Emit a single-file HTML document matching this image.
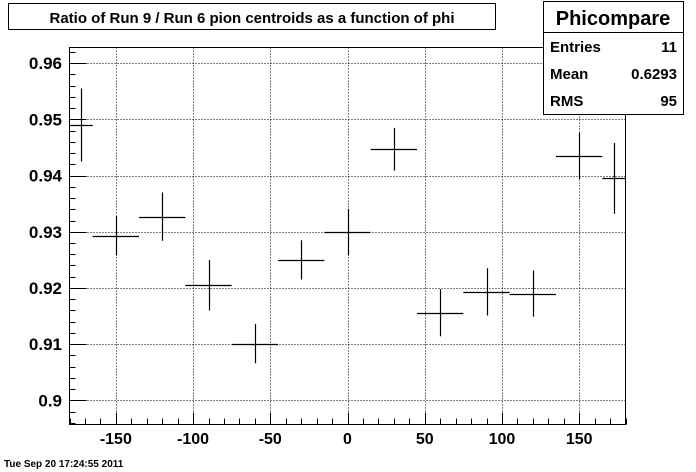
<!DOCTYPE html>
<html><head><meta charset="utf-8"><style>
body{margin:0;background:#fff;}
svg{display:block;font-family:"Liberation Sans",Arial,sans-serif;}
</style></head><body>
<svg id="c" width="696" height="472" viewBox="0 0 696 472">
<rect width="696" height="472" fill="#fff"/>
<g>
<rect x="8.5" y="3.5" width="487" height="26" fill="#fff" stroke="#000"/>
<text x="252" y="23" text-anchor="middle" font-size="15" font-weight="bold">Ratio of Run 9 / Run 6 pion centroids as a function of phi</text>
</g>
<g id="grid"></g>
<g id="axes"></g>
<g id="marks"></g>
<g>
<rect x="543.5" y="1.5" width="140" height="113" fill="#fff" stroke="#000"/>
<line x1="543" y1="32.5" x2="684" y2="32.5" stroke="#000"/>
<text x="613" y="25" text-anchor="middle" font-size="20" font-weight="bold">Phicompare</text>
<text x="550" y="52" font-size="15" font-weight="bold">Entries</text><text x="677" y="52" text-anchor="end" font-size="15" font-weight="bold">11</text>
<text x="550" y="79" font-size="15" font-weight="bold">Mean</text><text x="677" y="79" text-anchor="end" font-size="15" font-weight="bold">0.6293</text>
<text x="550" y="106" font-size="15" font-weight="bold">RMS</text><text x="677" y="106" text-anchor="end" font-size="15" font-weight="bold">95</text>
</g>
<text x="4" y="467" font-size="10" font-weight="bold">Tue Sep 20 17:24:55 2011</text>
</svg>
<script>
const xs=[-172.5,-150,-120,-90,-60,-30,0,30,60,90,120,150,172.5];
const ys=[0.949,0.9293,0.9327,0.9205,0.9101,0.925,0.930,0.9447,0.9156,0.9193,0.9190,0.9435,0.9395];
const yerr=[0.0065,0.0035,0.0043,0.0045,0.0035,0.0035,0.0041,0.0038,0.0042,0.0042,0.0041,0.0041,0.0063];
const xerr=[7.5,15,15,15,15,15,15,15,15,15,15,15,7.5];
const xTicks=[-150,-100,-50,0,50,100,150];
const yTicks=[0.9,0.91,0.92,0.93,0.94,0.95,0.96];
const X0=69.5,X1=625.5,Y0=424.5,Y1=47.5,xmin=-180,xmax=180,ymin=0.8957,ymax=0.9628;
const sx=v=>X0+(v-xmin)/(xmax-xmin)*(X1-X0);
const sy=v=>Y0-(v-ymin)/(ymax-ymin)*(Y0-Y1);
const NS="http://www.w3.org/2000/svg";
function mk(p,t,a){const e=document.createElementNS(NS,t);for(const k in a)e.setAttribute(k,a[k]);p.appendChild(e);return e;}
const g=document.getElementById('grid'),ax=document.getElementById('axes'),m=document.getElementById('marks');
xTicks.forEach(t=>{const l=mk(g,'line',{x1:Math.round(sx(t))+.5,x2:Math.round(sx(t))+.5,y1:Y1,y2:Y0,stroke:'#000','stroke-dasharray':'1,2'});
});
yTicks.forEach(t=>{const l=mk(g,'line',{x1:X0,x2:X1,y1:Math.round(sy(t))+.5,y2:Math.round(sy(t))+.5,stroke:'#000','stroke-dasharray':'1,2'});
});
const fr=mk(ax,'rect',{x:X0,y:Y1,width:X1-X0,height:Y0-Y1,fill:'none',stroke:'#000'});

for(let v=-180;v<=180;v+=10){const major=v%50===0;const x=Math.round(sx(v))+.5;
const l=mk(ax,'line',{x1:x,x2:x,y1:Y0,y2:Y0-(major?12:6),stroke:'#000'});
}
xTicks.forEach(t=>{const e=mk(ax,'text',{x:sx(t),y:444,'text-anchor':'middle','font-size':16,'font-weight':'bold'});e.textContent=t;
});
for(let i=0;;i++){const v=0.896+i*0.002;if(v>ymax)break;const major=Math.abs(v*100-Math.round(v*100))<1e-6;const y=Math.round(sy(v))+.5;
const l=mk(ax,'line',{x1:X0,x2:X0+(major?17:6),y1:y,y2:y,stroke:'#000'});
}
yTicks.forEach(t=>{const e=mk(ax,'text',{x:62,y:sy(t)+6,'text-anchor':'end','font-size':17,'font-weight':'bold'});e.textContent=(t===0.9?'0.9':t.toFixed(2));
});
xs.forEach((x,i)=>{const cx=Math.round(sx(x))+.5,cy=Math.round(sy(ys[i]))+.5;
const h=mk(m,'line',{x1:sx(x-xerr[i]),x2:sx(x+xerr[i]),y1:cy,y2:cy,stroke:'#000','stroke-width':1.2});

const v=mk(m,'line',{x1:cx,x2:cx,y1:sy(ys[i]-yerr[i]),y2:sy(ys[i]+yerr[i]),stroke:'#000','stroke-width':1.2});
});
</script>
</body></html>
